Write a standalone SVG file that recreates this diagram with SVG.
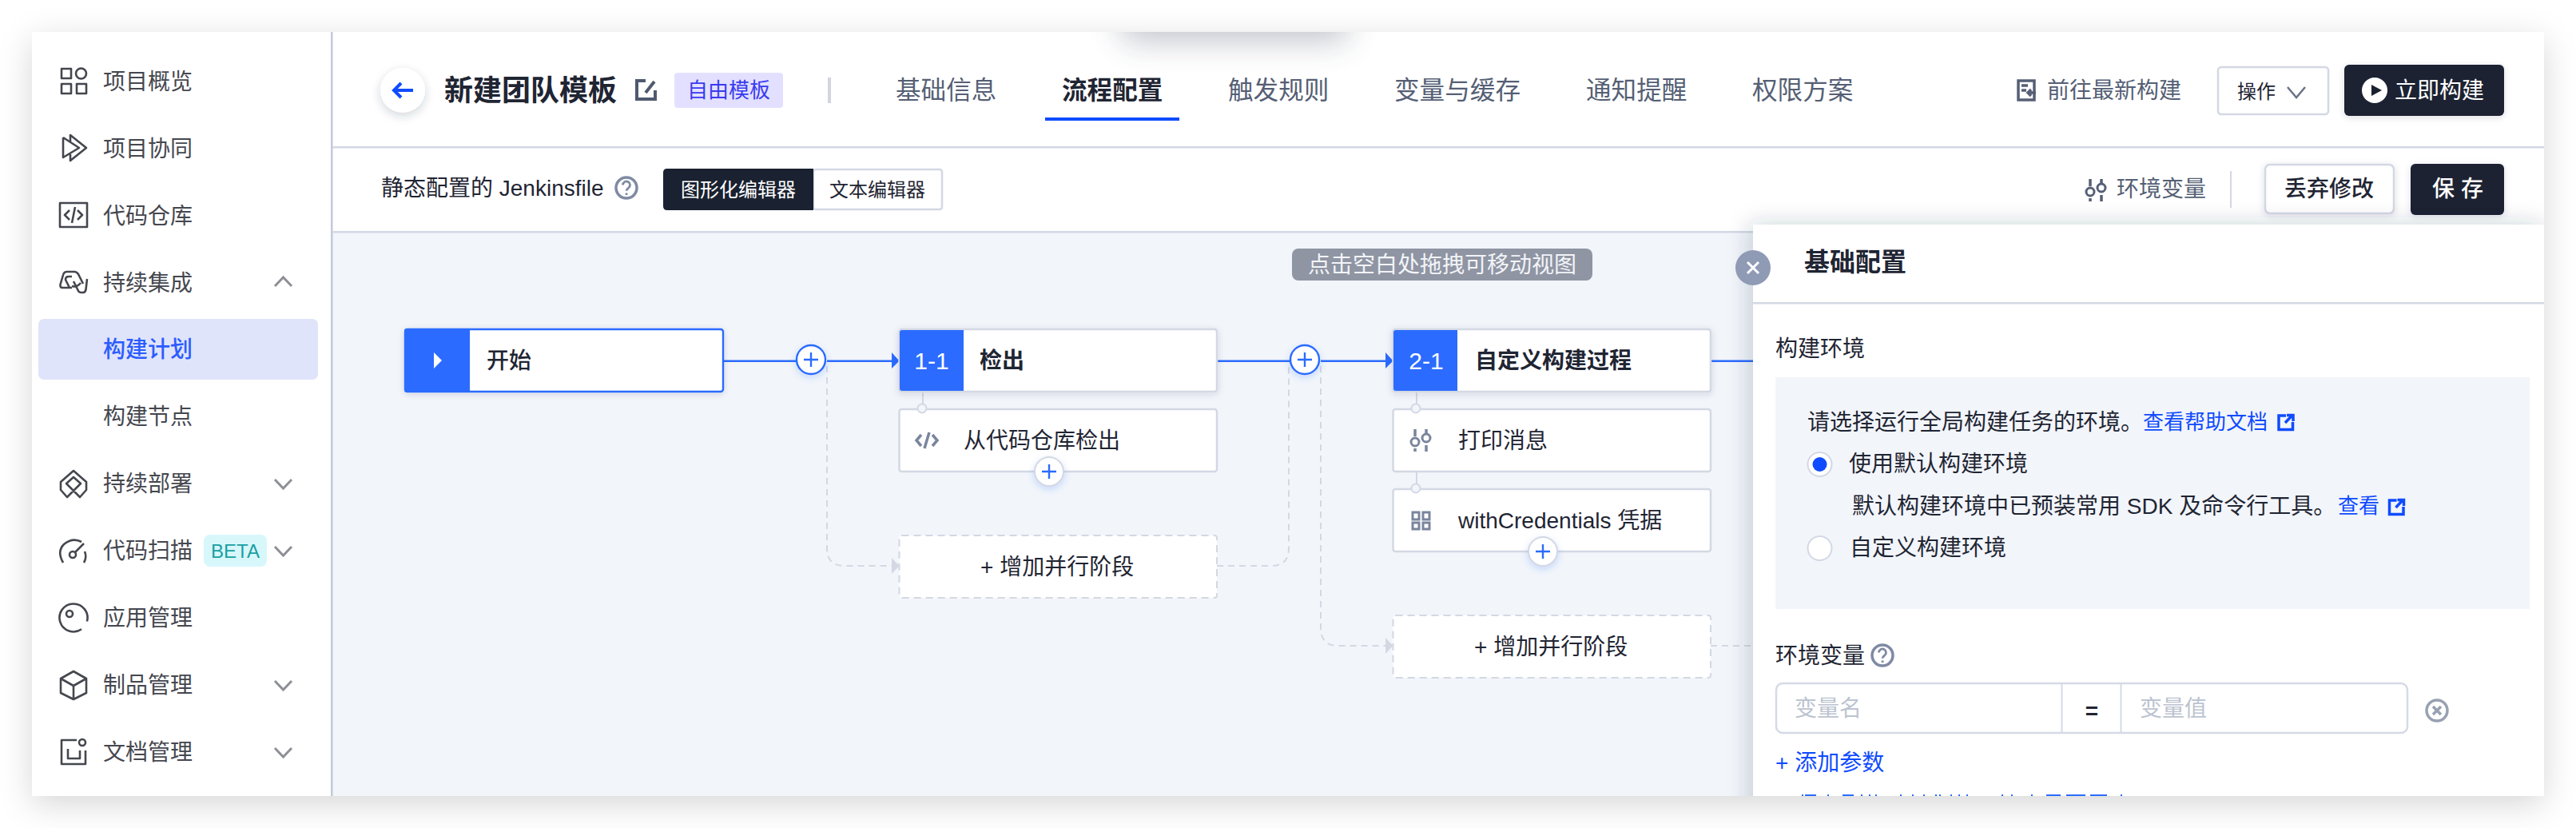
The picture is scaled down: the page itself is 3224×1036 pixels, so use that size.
<svg xmlns="http://www.w3.org/2000/svg" xmlns:xlink="http://www.w3.org/1999/xlink" width="3224" height="1036" viewBox="0 0 3224 1036">
<style>
text{font-family:"Liberation Sans","Noto Sans CJK SC",sans-serif;dominant-baseline:central;font-size:28px;fill:#1f2533}
.nav{fill:#45474f}
.ni{fill:none;stroke:#45474f;stroke-width:2.6;stroke-linejoin:round}
.chev{fill:none;stroke:#8e9096;stroke-width:3}
.tab{font-size:31.600px;fill:#555f75}
.b{font-weight:600}
.m{font-weight:500}
.w{fill:#fff}
.link{fill:#0f4bff;font-size:26px}
.ph{fill:#bcc3d0}
.node{fill:#fff;stroke:#d3d8e3;stroke-width:2.5}
.dnode{fill:#fff;stroke:#d3d8e3;stroke-width:2;stroke-dasharray:9 6}
.blue{fill:#2b6bff}
.flow{fill:none;stroke:#2b6bff;stroke-width:2.4}
.dash{fill:none;stroke:#d3d8e3;stroke-width:2;stroke-dasharray:8 6}
.sub{fill:none;stroke:#d3d8e3;stroke-width:2}
.dot{fill:#f2f5fa;stroke:#d3d8e3;stroke-width:2}
.ic{fill:none;stroke:#7a859d;stroke-width:3}
.ext{fill:none;stroke:#0f4bff;stroke-width:3.5}
</style>
<defs>
<filter id="cardS" x="-5%" y="-15%" width="110%" height="130%"><feDropShadow dx="0" dy="10" stdDeviation="20" flood-color="#000" flood-opacity=".16"/></filter>
<filter id="panelS" x="-10%" y="-15%" width="120%" height="130%"><feDropShadow dx="-4" dy="0" stdDeviation="14" flood-color="#2b3550" flood-opacity=".22"/></filter>
<filter id="soft" x="-20%" y="-40%" width="140%" height="200%"><feDropShadow dx="0" dy="2" stdDeviation="4" flood-color="#2b3550" flood-opacity=".14"/></filter>
<filter id="plusS" x="-60%" y="-60%" width="220%" height="220%"><feDropShadow dx="0" dy="3" stdDeviation="4" flood-color="#2b6bff" flood-opacity=".22"/></filter>
<filter id="backS" x="-60%" y="-60%" width="220%" height="220%"><feDropShadow dx="0" dy="4" stdDeviation="6" flood-color="#2b3550" flood-opacity=".2"/></filter>
<filter id="blur" x="-30%" y="-100%" width="160%" height="300%"><feGaussianBlur stdDeviation="20"/></filter>
<clipPath id="cardClip"><rect x="40" y="40" width="3144" height="956"/></clipPath>
<g id="q"><circle r="13" fill="none" stroke="currentColor" stroke-width="3.500"/><path d="M-4.500 -3.500a4.500 4.500 0 1 1 7 3.700c-1.600 1-2.400 1.800-2.400 3.600M.1 6.500v2.500" fill="none" stroke="currentColor" stroke-width="2.800"/></g>
<g id="sliders"><path d="M6 0V9M6 24V28M20 0V5M20 20V28" fill="none" stroke="currentColor" stroke-width="3.500"/><circle cx="6" cy="16" r="5" fill="none" stroke="currentColor" stroke-width="3"/><circle cx="20" cy="11" r="5" fill="none" stroke="currentColor" stroke-width="3"/></g>
<g id="extIcon"><path class="ext" d="M11 2H2V19.500H19.500V10M10 11L18 2.500M12 1.500H20V9"/></g>
<g id="plusBtn"><path d="M-9 0H9M0 -9V9" stroke="#2b6bff" stroke-width="2.400" fill="none"/></g>
</defs>

<rect x="40" y="40" width="3144" height="956" fill="#fff" filter="url(#cardS)"/>

<g id="page" clip-path="url(#cardClip)">
<rect x="416" y="291" width="2768" height="705" fill="#f2f5fa"/>
<rect x="1405" y="-20" width="280" height="70" fill="#2b3550" opacity=".3" filter="url(#blur)"/>
<rect x="414" y="40" width="2.500" height="956" fill="#c3c9da"/>
<rect x="416" y="183" width="2768" height="2.500" fill="#d3d8e3"/>
<rect x="416" y="289" width="2768" height="2.500" fill="#d3d8e3"/>
</g>

<g id="sidebar">
<g id="nav-overview"><g class="ni"><rect x="77" y="86" width="12" height="12"/><circle cx="101.500" cy="92" r="6.500"/><rect x="77" y="105" width="12" height="12"/><rect x="96" y="105" width="12" height="12"/></g><text class="nav" x="129" y="102">项目概览</text></g>
<g id="nav-collab"><path class="ni" d="M79 172V197L99 185L79 172M88 177V169L108 185L88 201V193"/><text class="nav" x="129" y="186">项目协同</text></g>
<g id="nav-repo"><path class="ni" d="M75 254H109V284H75ZM87 263L81 269L87 275M97 263L103 269L97 275M94 259L90 279"/><text class="nav" x="129" y="270">代码仓库</text></g>
<g id="nav-ci"><path class="ni" d="M90 360H78Q75 360 75.500 356L79 344Q80 340 84 340H93Q96 340 98 343L104 355M87 360L82 350Q82 346 86 346H90M92 352L98 364Q99 366 102 366H104Q107 366 107.500 362L109 349M90 358Q96 360 101 354"/><text class="nav" x="129" y="354">持续集成</text><path class="chev" d="M344 358L354.500 347L365 358"/></g>
<g id="nav-plan"><rect x="48" y="399" width="350" height="76" rx="7" fill="#dfe4fb"/><text class="m" x="129" y="437" style="fill:#2b5cff">构建计划</text></g>
<g id="nav-nodes"><text class="nav" x="129" y="521">构建节点</text></g>
<g id="nav-cd"><path class="ni" d="M84 622L76 613V603L92 589L108 603V613L100 622L92 614L101 605L92 597L83 605L92 614Z"/><text class="nav" x="129" y="605">持续部署</text><path class="chev" d="M344 600L354.500 611L365 600"/></g>
<g id="nav-scan"><path class="ni" d="M79 704Q71 690 80 681Q91 672 102 678M106 690Q109 697 105 704M94 691L105 680"/><circle class="ni" cx="91" cy="694" r="4"/><text class="nav" x="129" y="689">代码扫描</text><rect x="255" y="669" width="79" height="40" rx="8" fill="#d8f7fb"/><text x="294.500" y="689" text-anchor="middle" style="font-size:24px;fill:#1a9fa3">BETA</text><path class="chev" d="M344 684L354.500 695L365 684"/></g>
<g id="nav-app"><path class="ni" d="M108.900 777.500A17.500 17.500 0 1 0 102 787.300"/><circle class="ni" cx="87" cy="768" r="4"/><text class="nav" x="129" y="773">应用管理</text></g>
<g id="nav-artifact"><path class="ni" d="M92 840L108 849V867L92 875L76 867V849ZM76 849L92 858L108 849M92 858V875"/><text class="nav" x="129" y="857">制品管理</text><path class="chev" d="M344 852L354.500 863L365 852"/></g>
<g id="nav-doc"><path class="ni" d="M96 926H77V956H107V939M85 937V949H100V939"/><circle class="ni" cx="103" cy="929" r="4"/><text class="nav" x="129" y="941">文档管理</text><path class="chev" d="M344 936L354.500 947L365 936"/></g>
</g>

<g id="header">
<g id="back"><circle cx="504" cy="113" r="28" fill="#fff" filter="url(#backS)"/><path d="M517 113H494M502 104L493 113L502 122" fill="none" stroke="#0f4bff" stroke-width="4"/></g>
<text class="b" x="556" y="113" style="font-size:36px">新建团队模板</text>
<path d="M808 101H797V124H820V113M808 116L819 102" fill="none" stroke="#4f5a70" stroke-width="4"/>
<g id="badge"><rect x="844" y="91" width="136" height="44" rx="4" fill="#e3e0ff"/><text x="912" y="113" text-anchor="middle" style="font-size:26px;fill:#3a3af0">自由模板</text></g>
<rect x="1036" y="97" width="4" height="32" fill="#d0d5e0"/>
<text class="tab" x="1121" y="113">基础信息</text>
<text class="tab b" x="1329" y="113" style="fill:#1f2533">流程配置</text>
<rect x="1308" y="147" width="168" height="4" fill="#0f4bff"/>
<text class="tab" x="1537" y="113">触发规则</text>
<text class="tab" x="1745" y="113">变量与缓存</text>
<text class="tab" x="1985" y="113">通知提醒</text>
<text class="tab" x="2193" y="113">权限方案</text>
<path d="M2526 101H2546V125H2526ZM2530 107H2538M2530 113H2536M2548 116H2538M2542 112L2538 116L2542 120" fill="none" stroke="#555f75" stroke-width="3.500"/>
<text x="2562" y="113" style="fill:#555f75">前往最新构建</text>
<g id="ops"><rect x="2776" y="84" width="138" height="59" rx="4" fill="#fff" stroke="#d3d8e3" stroke-width="2.500"/><text x="2800" y="114" style="font-size:24px">操作</text><path d="M2863 109L2874 122L2885 109" fill="none" stroke="#6b7488" stroke-width="2.500"/></g>
<g id="build"><rect x="2934" y="81" width="200" height="64" rx="6" fill="#1a2130" filter="url(#soft)"/><circle cx="2972" cy="113" r="16" fill="#fff"/><path d="M2968 106L2981 113L2968 120Z" fill="#1a2130"/><text class="w" x="2997" y="113">立即构建</text></g>
<text x="477" y="235">静态配置的 Jenkinsfile</text>
<use xlink:href="#q" href="#q" x="784" y="235" style="color:#7f8aa3"/>
<g id="toggle"><rect x="1018" y="212" width="161" height="50" rx="3" fill="#fff" stroke="#d3d8e3" stroke-width="2.500"/><path d="M835 211H1018V263H835Q830 263 830 258V216Q830 211 835 211Z" fill="#1a2130"/><text class="w" x="924" y="237" text-anchor="middle" style="font-size:24px">图形化编辑器</text><text x="1098" y="237" text-anchor="middle" style="font-size:24px">文本编辑器</text></g>
<use xlink:href="#sliders" href="#sliders" x="2610" y="224" style="color:#555f75"/>
<text x="2649" y="236" style="fill:#555f75">环境变量</text>
<rect x="2791" y="214" width="2" height="46" fill="#d3d8e3"/>
<g id="discard"><rect x="2835" y="206" width="161" height="61" rx="6" fill="#fff" stroke="#d3d8e3" stroke-width="2.500" filter="url(#soft)"/><text class="m" x="2915" y="236" text-anchor="middle">丢弃修改</text></g>
<g id="save"><rect x="3017" y="205" width="117" height="64" rx="6" fill="#1a2130" filter="url(#soft)"/><text class="w m" x="3076" y="236" text-anchor="middle" xml:space="preserve">保 存</text></g>
</g>

<g id="connectors">
<path class="flow" d="M905 451.700H997M1035 451.700H1117M1523 451.700H1615M1653 451.700H1735M2141 451.700H2194"/>
<path d="M1116 441L1125.500 451.500L1116 461ZM1734 441L1743.500 451.500L1734 461Z" class="blue"/>
<path class="dash" d="M1035 458V686Q1035 708 1057 708H1117"/>
<path class="dash" d="M1523 708H1591Q1613 708 1613 686V458"/>
<path class="dash" d="M1653 458V786Q1653 808 1675 808H1735"/>
<path class="dash" d="M2141 808H2194"/>
<path d="M1116 698L1125.500 708L1116 718ZM1734 798L1743.500 808L1734 818Z" fill="#d3d8e3"/>
<path class="sub" d="M1155 490V505M1773 490V505M1773 590V605"/>
</g>

<g id="node-start"><rect x="507" y="412" width="398" height="78" rx="3" fill="#fff" stroke="#2b6bff" stroke-width="2.400" filter="url(#soft)"/><path d="M509 411H588V491H509Q506 491 506 488V414Q506 411 509 411Z" class="blue"/><path d="M543 441L553 451L543 461Z" fill="#fff"/><text class="m" x="609" y="451">开始</text></g>
<g id="plus-1"><circle cx="1015" cy="450" r="18" fill="#fff" stroke="#2b6bff" stroke-width="2.400" filter="url(#plusS)"/><use xlink:href="#plusBtn" href="#plusBtn" x="1015" y="450"/></g>
<g id="plus-2"><circle cx="1633" cy="450" r="18" fill="#fff" stroke="#2b6bff" stroke-width="2.400" filter="url(#plusS)"/><use xlink:href="#plusBtn" href="#plusBtn" x="1633" y="450"/></g>

<g id="stage-1-1"><rect class="node" x="1125.500" y="412" width="397.500" height="78" rx="3" filter="url(#soft)"/><path d="M1129 413H1206V489H1129Q1126 489 1126 486V416Q1126 413 1129 413Z" class="blue"/><text class="w m" x="1166" y="451" text-anchor="middle" style="font-size:30px">1-1</text><text class="b" x="1226" y="451">检出</text></g>
<g id="step-checkout"><rect class="node" x="1125.500" y="512" width="397.500" height="78" rx="3"/><circle class="dot" cx="1154" cy="511" r="5.500"/><path d="M1153 544L1147 551L1153 558M1167 544L1173 551L1167 558M1163 541L1157 561" fill="none" stroke="#7a859d" stroke-width="3.500"/><text x="1206" y="551">从代码仓库检出</text></g>
<g id="plus-3"><circle cx="1313" cy="590" r="18" fill="#fff" stroke="#d3d8e3" stroke-width="2" filter="url(#plusS)"/><use xlink:href="#plusBtn" href="#plusBtn" x="1313" y="590"/></g>
<g id="parallel-1"><rect class="dnode" x="1125.500" y="670" width="397.500" height="78" rx="3"/><text x="1227" y="709">+ 增加并行阶段</text></g>

<g id="stage-2-1"><rect class="node" x="1743.500" y="412" width="397.500" height="78" rx="3" filter="url(#soft)"/><path d="M1747 413H1824V489H1747Q1744 489 1744 486V416Q1744 413 1747 413Z" class="blue"/><text class="w m" x="1785" y="451" text-anchor="middle" style="font-size:30px">2-1</text><text class="b" x="1846" y="451">自定义构建过程</text></g>
<g id="step-print"><rect class="node" x="1743.500" y="512" width="397.500" height="78" rx="3"/><circle class="dot" cx="1772" cy="511" r="5.500"/><use xlink:href="#sliders" href="#sliders" x="1765" y="537" style="color:#7a859d"/><text x="1825" y="551">打印消息</text></g>
<g id="step-cred"><rect class="node" x="1743.500" y="612" width="397.500" height="78" rx="3"/><circle class="dot" cx="1772" cy="611" r="5.500"/><path class="ic" d="M1768 641H1776V650H1768ZM1781 641H1789V650H1781ZM1768 654H1776V662H1768ZM1781 654H1789V662H1781Z"/><text x="1825" y="651">withCredentials 凭据</text></g>
<g id="plus-4"><circle cx="1931" cy="690" r="18" fill="#fff" stroke="#d3d8e3" stroke-width="2" filter="url(#plusS)"/><use xlink:href="#plusBtn" href="#plusBtn" x="1931" y="690"/></g>
<g id="parallel-2"><rect class="dnode" x="1743.500" y="770" width="397.500" height="78" rx="3"/><text x="1845" y="809">+ 增加并行阶段</text></g>

<g id="tooltip"><rect x="1617" y="311" width="376" height="40" rx="8" fill="#8f95a3"/><text x="1805" y="331" text-anchor="middle" style="fill:#f2f4f8">点击空白处拖拽可移动视图</text></g>

<g clip-path="url(#cardClip)"><rect x="2194" y="281" width="990" height="760" fill="#fff" filter="url(#panelS)"/></g>
<g id="panel">
<rect x="2194" y="378" width="990" height="2.500" fill="#d3d8e3"/>
<g id="close"><circle cx="2194" cy="335" r="22" fill="#8f9ab5"/><path d="M2187 328L2201 342M2201 328L2187 342" stroke="#fff" stroke-width="3"/></g>
<text class="b" x="2258" y="328" style="font-size:32px">基础配置</text>
<text x="2222" y="436">构建环境</text>
<rect x="2222" y="472" width="944" height="290" fill="#f2f5fa"/>
<text x="2262" y="528">请选择运行全局构建任务的环境。</text>
<text class="link" x="2682" y="528">查看帮助文档</text>
<use xlink:href="#extIcon" href="#extIcon" x="2850" y="518"/>
<g id="radio-default"><circle cx="2277.500" cy="581" r="15" fill="#fff" stroke="#d3d8e3" stroke-width="2"/><circle cx="2277.500" cy="581" r="9" fill="#0f4bff"/><text x="2314" y="580">使用默认构建环境</text></g>
<text x="2318" y="633">默认构建环境中已预装常用 SDK 及命令行工具。</text>
<text class="link" x="2926" y="633">查看</text>
<use xlink:href="#extIcon" href="#extIcon" x="2988.500" y="624"/>
<g id="radio-custom"><circle cx="2277.500" cy="686" r="15" fill="#fff" stroke="#d3d8e3" stroke-width="2"/><text x="2315" y="685">自定义构建环境</text></g>
<text x="2222" y="820">环境变量</text>
<use xlink:href="#q" href="#q" x="2356" y="820" style="color:#7f8aa3"/>
<g id="env-input"><rect x="2223" y="855" width="790" height="62" rx="8" fill="#fff" stroke="#d5dae5" stroke-width="2.500"/><path d="M2580.500 855V917M2654.500 855V917" stroke="#d5dae5" stroke-width="2"/><text class="ph" x="2246" y="886">变量名</text><text class="b" x="2618" y="889" text-anchor="middle">=</text><text class="ph" x="2678" y="886">变量值</text></g>
<g id="clear" fill="none" stroke="#98a1b2" stroke-width="3.500"><circle cx="3050" cy="889" r="13"/><path d="M3045 884L3055 894M3055 884L3045 894"/></g>
<text x="2222" y="954" style="fill:#0f4bff">+ 添加参数</text>
<path d="M2255 995h2M2259 995h14M2287 995h2M2306 995h14M2329 995h2M2339 995h2M2347 995h2M2378 995h2M2393 995h2M2407 995h2M2422 995h2M2427 995h2M2441 995h2M2451 995h2M2461 995h2M2505 995h2M2517 995h2M2542 995h2M2561 995h18M2586 995h24M2616 995h21M2654 995h2" stroke="#2b6bff" stroke-width="2" fill="none"/>
</g>
</svg>
